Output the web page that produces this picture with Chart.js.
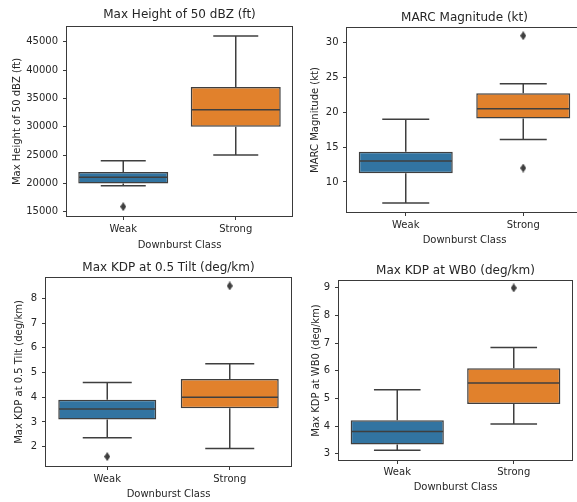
<!DOCTYPE html>
<html>
<head>
<meta charset="utf-8">
<script src="https://cdn.jsdelivr.net/npm/chart.js@4/dist/chart.umd.min.js"></script>
<style>
  html, body { margin: 0; padding: 0; background: #ffffff; }
  body { width: 577px; height: 502px; overflow: hidden; position: relative; }
  canvas { position: absolute; filter: blur(0.3px); }
</style>
</head>
<body>
<canvas id="c1"></canvas>
<canvas id="c2"></canvas>
<canvas id="c3"></canvas>
<canvas id="c4"></canvas>
<script>
// ---------- DATA ----------
const categories = ['Weak', 'Strong'];
const xAxisTitle = 'Downburst Class';

// Panel 1: Max Height of 50 dBZ (ft)
const h50Title = 'Max Height of 50 dBZ (ft)';
const h50Low  = [19600, 25000];
const h50Q1   = [20000, 30000];
const h50Med  = [21100, 33000];
const h50Q3   = [22000, 37000];
const h50High = [24000, 46000];
const h50Out  = [[15900], []];
const h50Ticks = [15000, 20000, 25000, 30000, 35000, 40000, 45000];

// Panel 2: MARC Magnitude (kt)
const marcTitle = 'MARC Magnitude (kt)';
const marcLow  = [7, 16.1];
const marcQ1   = [11.25, 19.1];
const marcMed  = [13, 20.5];
const marcQ3   = [14.35, 22.75];
const marcHigh = [19, 24.1];
const marcOut  = [[], [31, 12]];
const marcTicks = [10, 15, 20, 25, 30];

// Panel 3: Max KDP at 0.5 Tilt (deg/km)
const kdp05Title = 'Max KDP at 0.5 Tilt (deg/km)';
const kdp05Low  = [2.36, 1.93];
const kdp05Q1   = [3.1, 3.55];
const kdp05Med  = [3.52, 4.0];
const kdp05Q3   = [3.9, 4.74];
const kdp05High = [4.6, 5.35];
const kdp05Out  = [[1.6], [8.5]];
const kdp05Ticks = [2, 3, 4, 5, 6, 7, 8];

// Panel 4: Max KDP at WB0 (deg/km)
const kdpWbTitle = 'Max KDP at WB0 (deg/km)';
const kdpWbLow  = [3.12, 4.07];
const kdpWbQ1   = [3.33, 4.8];
const kdpWbMed  = [3.8, 5.56];
const kdpWbQ3   = [4.21, 6.09];
const kdpWbHigh = [5.31, 6.84];
const kdpWbOut  = [[], [9]];
const kdpWbTicks = [3, 4, 5, 6, 7, 8, 9];

// ---------- STYLE ----------
const FONT = "'DejaVu Sans', 'Liberation Sans', sans-serif";
const TEXT = '#262626';
const FRAME = '#3a3a3a';
const LINE = '#3f3f3f';
const BOX_COLORS = ['#3274a1', '#e1812c'];

function diamondImage(w, h, color) {
  const c = document.createElement('canvas');
  c.width = w; c.height = h;
  const g = c.getContext('2d');
  g.fillStyle = color;
  g.beginPath();
  g.moveTo(w / 2, 0); g.lineTo(w, h / 2); g.lineTo(w / 2, h); g.lineTo(0, h / 2);
  g.closePath(); g.fill();
  return c;
}
const DIAMOND = diamondImage(6, 9, LINE);

function makeBoxChart(id, s, L) {
  const cv = document.getElementById(id);
  cv.width = L.W; cv.height = L.H;
  cv.style.left = L.left + 'px'; cv.style.top = L.top + 'px';
  cv.style.width = L.W + 'px'; cv.style.height = L.H + 'px';

  const outPts = [];
  s.out.forEach((arr, i) => arr.forEach(v => outPts.push({ x: categories[i], y: v })));

  const whiskerPlugin = {
    id: 'whiskers' + id,
    afterDatasetsDraw(chart) {
      const ctx = chart.ctx;
      const ys = chart.scales.y;
      const meta = chart.getDatasetMeta(0);
      ctx.save();
      ctx.strokeStyle = LINE;
      ctx.lineWidth = 1.5;
      const seg = (x1, y1, x2, y2) => { ctx.beginPath(); ctx.moveTo(x1, y1); ctx.lineTo(x2, y2); ctx.stroke(); };
      meta.data.forEach((bar, i) => {
        const p = bar.getProps(['x', 'width'], true);
        const half = p.width / 2;
        const yLow = ys.getPixelForValue(s.low[i]);
        const yQ1 = ys.getPixelForValue(s.q1[i]);
        const yMed = ys.getPixelForValue(s.med[i]);
        const yQ3 = ys.getPixelForValue(s.q3[i]);
        const yHigh = ys.getPixelForValue(s.high[i]);
        seg(p.x, yQ3, p.x, yHigh);
        seg(p.x, yQ1, p.x, yLow);
        seg(p.x - half / 2, yHigh, p.x + half / 2, yHigh);
        seg(p.x - half / 2, yLow, p.x + half / 2, yLow);
        seg(p.x - half + 0.75, yMed, p.x + half - 0.75, yMed);
      });
      const a = chart.chartArea;
      ctx.strokeStyle = FRAME;
      ctx.lineWidth = 1;
      ctx.strokeRect(Math.round(a.left) - 0.5, Math.round(a.top) - 0.5,
                     Math.round(a.right - a.left) + 1, Math.round(a.bottom - a.top) + 1);
      ctx.restore();
    }
  };

  return new Chart(cv, {
    type: 'bar',
    data: {
      labels: categories,
      datasets: [
        {
          type: 'bar',
          data: s.q1.map((v, i) => [v, s.q3[i]]),
          backgroundColor: BOX_COLORS,
          borderColor: LINE,
          borderWidth: 1.5,
          borderSkipped: false,
          barPercentage: 0.8,
          categoryPercentage: 1.0
        },
        {
          type: 'line',
          data: outPts,
          showLine: false,
          pointStyle: DIAMOND,
          pointRadius: 4,
          pointHoverRadius: 4
        }
      ]
    },
    options: {
      responsive: false,
      animation: false,
      devicePixelRatio: 1,
      events: [],
      layout: { padding: { left: 0, top: 0, right: L.W - L.right, bottom: 0 } },
      plugins: {
        legend: { display: false },
        tooltip: { enabled: false },
        title: {
          display: true, text: s.title, fullSize: false, color: TEXT,
          font: { family: FONT, size: 12, weight: 'normal', lineHeight: 1.2 },
          padding: { top: L.tTop, bottom: L.tBottom }
        }
      },
      scales: {
        x: {
          type: 'category',
          offset: true,
          grid: { offset: false, drawOnChartArea: false, drawTicks: true, tickLength: 4, color: FRAME, lineWidth: 1 },
          border: { display: false },
          ticks: { color: TEXT, font: { family: FONT, size: 10 }, padding: L.xPad, maxRotation: 0 },
          title: { display: true, text: xAxisTitle, color: TEXT, font: { family: FONT, size: 10, lineHeight: 1.2 }, padding: { top: 0, bottom: L.xtb } },
          afterFit(sc) { sc.height = L.H - L.bottom; }
        },
        y: {
          type: 'linear',
          min: s.min, max: s.max,
          afterBuildTicks(sc) { sc.ticks = s.ticks.map(v => ({ value: v })); },
          grid: { drawOnChartArea: false, drawTicks: true, tickLength: 4, color: FRAME, lineWidth: 1 },
          border: { display: false },
          ticks: { color: TEXT, font: { family: FONT, size: 10 }, padding: L.yPad, callback: v => String(v) },
          title: { display: true, text: s.title, color: TEXT, font: { family: FONT, size: 10, lineHeight: 1.2 }, padding: { top: L.ytt, bottom: 0 } },
          afterFit(sc) { sc.width = L.leftArea; }
        }
      }
    },
    plugins: [whiskerPlugin]
  });
}

makeBoxChart('c1',
  { title: h50Title, low: h50Low, q1: h50Q1, med: h50Med, q3: h50Q3, high: h50High, out: h50Out, ticks: h50Ticks, min: 14250, max: 47600 },
  { left: 0, top: 0, W: 300, H: 256, leftArea: 67, right: 292, bottom: 216, tTop: 7.8, tBottom: 4.8, xPad: 3, xtb: 5, yPad: 5, ytt: 11.7 });

makeBoxChart('c2',
  { title: marcTitle, low: marcLow, q1: marcQ1, med: marcMed, q3: marcQ3, high: marcHigh, out: marcOut, ticks: marcTicks, min: 5.69, max: 32.11 },
  { left: 300, top: 0, W: 290, H: 252, leftArea: 47, right: 282, bottom: 212, tTop: 10.3, tBottom: 3.3, xPad: 3, xtb: 6, yPad: 4.5, ytt: 9.7 });

makeBoxChart('c3',
  { title: kdp05Title, low: kdp05Low, q1: kdp05Q1, med: kdp05Med, q3: kdp05Q3, high: kdp05High, out: kdp05Out, ticks: kdp05Ticks, min: 1.22, max: 8.82 },
  { left: 0, top: 252, W: 300, H: 250, leftArea: 46, right: 291, bottom: 214, tTop: 9.1, tBottom: 2.5, xPad: 3, xtb: 2, yPad: 5, ytt: 13.5 });

makeBoxChart('c4',
  { title: kdpWbTitle, low: kdpWbLow, q1: kdpWbQ1, med: kdpWbMed, q3: kdpWbQ3, high: kdpWbHigh, out: kdpWbOut, ticks: kdpWbTicks, min: 2.77, max: 9.25 },
  { left: 300, top: 252, W: 277, H: 250, leftArea: 39, right: 274, bottom: 208, tTop: 11.3, tBottom: 3.3, xPad: 2, xtb: 9, yPad: 5, ytt: 10 });
</script>
</body>
</html>
